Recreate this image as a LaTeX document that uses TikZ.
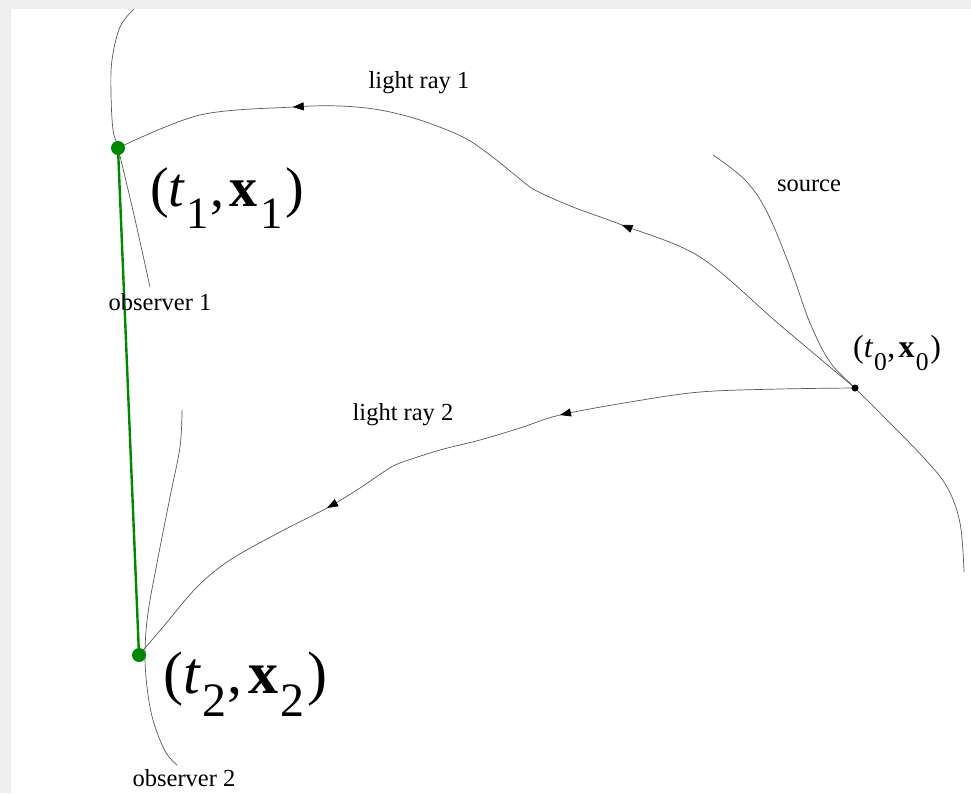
\documentclass[tikz,border=0pt]{standalone}
\usepackage{fontspec}
\setmainfont{Liberation Serif}
\usetikzlibrary{decorations.markings,arrows.meta}
\definecolor{obsgreen}{RGB}{0,136,0}
\definecolor{frame}{RGB}{238,238,238}
\newcommand{\evlab}[1]{(\textit{t}\kern0.02em\raisebox{-0.38em}{\scalebox{0.8}{#1}}\kern0.02em,\kern0.1em\textbf{x}\kern0.04em\raisebox{-0.38em}{\scalebox{0.8}{#1}}\kern0.05em)}
\tikzset{
  wl/.style={draw=black!65, line width=0.7pt},
  ray/.style n args={2}{wl, postaction={decorate}, decoration={markings,
      mark=at position #1 with {\arrow[black]{Triangle[length=11pt,width=8pt]}},
      mark=at position #2 with {\arrow[black]{Triangle[length=11pt,width=8pt]}}}},
  gdot/.style={circle, fill=obsgreen, inner sep=0pt, minimum size=14pt},
  bdot/.style={circle, fill=black, inner sep=0pt, minimum size=7pt},
  gline/.style={draw=obsgreen, line width=2.4pt},
  lbl/.style={font=\fontsize{24.5}{24.5}\selectfont, inner sep=0pt},
  evbig/.style={font=\fontsize{56}{56}\selectfont, inner sep=0pt, anchor=west},
  evsmall/.style={font=\fontsize{32}{32}\selectfont, inner sep=0pt, anchor=west}
}
\begin{document}
\begin{tikzpicture}[x=1pt,y=-1pt]
\useasboundingbox (0,0) rectangle (971,793);
\fill[frame] (0,0) rectangle (971,793);
\fill[white] (11,9) rectangle (971,793);

\coordinate (e1) at (118,148);
\coordinate (e2) at (139,655);
\coordinate (src) at (855,388);

% observer 1 world line
\draw[wl] plot[smooth, tension=0.6] coordinates {(134,9) (120,27) (112,60) (111,93) (113,130) (e1) (134,215) (150,287)};
% observer 2 world line
\draw[wl] plot[smooth, tension=0.6] coordinates {(182,410) (180,447) (170,497) (157,563) (148,613) (145,652) (147,687) (153,720) (165,751) (177,765)};
% source world line
\draw[wl] plot[smooth, tension=0.6] coordinates {(713,155) (745,180) (767,212) (790,267) (810,323) (830,362) (src) (880,413) (923,457) (947,487) (960,523) (964,572)};

% light ray 1
\draw[ray={288pt}{646pt}] plot[smooth, tension=0.55] coordinates {(src) (780,325) (700,257) (622,225) (573,207) (535,190) (515,175) (490,155) (463,137) (420,120) (380,110) (340,106) (293,107) (200,115) (e1)};
% light ray 2
\draw[ray={297pt}{550pt}] plot[smooth, tension=0.55] coordinates {(src) (780,389) (700,392) (630,402) (560,415) (520,428) (480,440) (440,450) (400,463) (385,471) (360,488) (327,508) (280,532) (230,560) (197,587) (163,627) (e2)};

% green connection
\draw[gline] (e1) -- (e2);
\node[gdot] (d1) at (e1) {};
\node[gdot] (d2) at (e2) {};
\node[bdot] (d0) at (src) {};

\node[lbl] (lr1) at (419,83) {light ray 1};
\node[lbl] (lr2) at (403,415) {light ray 2};
\node[lbl] (so) at (809,186) {source};
\node[lbl] (o1) at (160,302) {observer 1};
\node[lbl] (o2) at (184,778) {observer 2};

\node[evbig] (l1) at (150,198) {\evlab{1}};
\node[evbig, font=\fontsize{60}{60}\selectfont] (l2) at (163,684) {\evlab{2}};
\node[evsmall] (l0) at (853,353) {\evlab{0}};
\end{tikzpicture}
\end{document}
